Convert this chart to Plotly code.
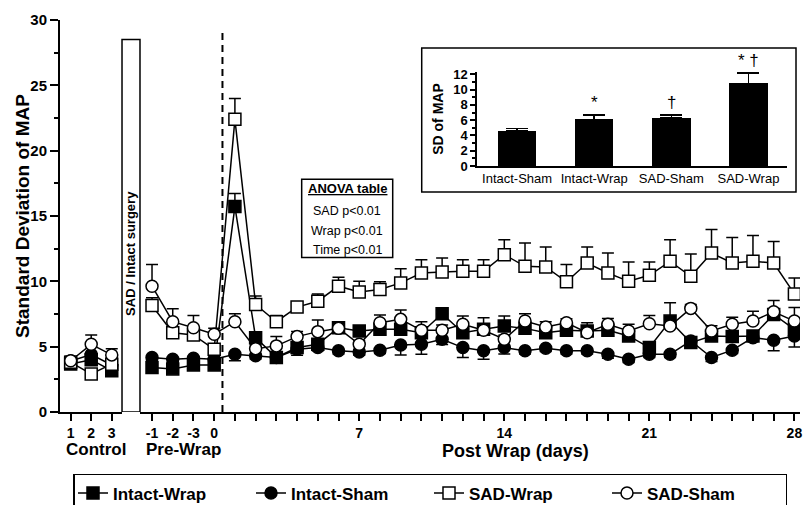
import plotly.graph_objects as go

# ---------------- data ----------------
CONTROL_X = [1, 2, 3]
PRE_POS = [-3, -2, -1, 0]
PRE_LABELS = ["-1", "-2", "-3", "0"]
POST_DAYS = list(range(1, 29))
POST_LABELED = [7, 14, 21, 28]
WRAP_X = 0.4

# Control period
iw_ctrl = [3.67, 4.0, 3.16]
iw_ctrl_err = [0.3, 0.3, 0.3]
is_ctrl = [3.9, 4.4, 3.6]
is_ctrl_err = [0.3, 0.3, 0.3]
sw_ctrl = [3.8, 2.91, 3.66]
sw_ctrl_err = [0.3, 0.3, 0.3]
ss_ctrl = [3.92, 5.18, 4.37]
ss_ctrl_err = [0.35, 0.71, 0.48]

# Pre-wrap (4) + post-wrap days 1..28
iw_main = [3.41, 3.3, 3.6, 3.6,
           15.72, 5.69, 4.17, 4.93, 5.19, 6.45, 6.2, 6.33, 6.33, 6.07, 7.52, 6.07, 6.33, 6.58,
           6.4, 6.07, 6.25, 6.2, 6.25, 5.82, 4.93, 6.96, 5.31, 5.82, 5.77, 5.82, 7.47, 6.33]
iw_err = [0.3, 0.3, 0.3, 0.3,
          1.0, 0.4, 0.3, 0.3, 0.3, 0.4, 0.4, 0.3, 0.3, 0.3, 0.3, 0.3, 0.89, 0.77,
          0.3, 0.3, 0.3, 0.3, 0.3, 0.3, 0.4, 1.4, 0.3, 0.3, 0.3, 0.3, 0.4, 0.5]

is_main = [4.17, 4.04, 4.12, 4.04,
           4.42, 4.3, 4.17, 4.8, 4.93, 4.68, 4.6, 4.73, 5.13, 5.18, 5.57, 4.93, 4.68, 4.93,
           4.68, 4.88, 4.68, 4.68, 4.42, 4.04, 4.42, 4.42, 5.44, 4.17, 4.73, 5.69, 5.49, 5.82]
is_err = [0.25, 0.25, 0.25, 0.25,
          0.5, 0.25, 0.25, 0.46, 0.25, 0.25, 0.25, 0.25, 0.77, 0.76, 0.4, 0.76, 0.64, 0.5,
          0.25, 0.25, 0.25, 0.25, 0.3, 0.25, 0.25, 0.25, 0.25, 0.3, 0.25, 0.25, 0.8, 0.85]

sw_main = [8.15, 6.07, 5.9, 4.8,
           22.4, 8.23, 6.91, 8.03, 8.48, 9.63, 9.19, 9.37, 9.88, 10.64, 10.71, 10.77, 10.77, 12.04,
           11.15, 11.1, 9.96, 11.4, 10.64, 10.0, 10.46, 11.53, 10.39, 12.16, 11.4, 11.53, 11.4, 9.04]
sw_err = [0.6, 0.3, 0.3, 0.3,
          1.6, 0.64, 0.48, 0.4, 0.56, 0.68, 0.81, 0.59, 1.09, 1.02, 1.08, 0.89, 0.89, 1.14,
          1.78, 1.52, 1.32, 1.22, 1.52, 1.48, 1.02, 1.65, 1.7, 1.81, 1.96, 1.98, 1.65, 1.22]

ss_main = [9.63, 6.91, 6.45, 5.95,
           6.91, 4.85, 5.06, 5.77, 6.15, 6.4, 5.18, 6.83, 7.09, 6.25, 6.25, 6.71, 6.25, 5.57,
           6.96, 6.5, 6.83, 6.07, 6.71, 6.2, 6.76, 6.58, 7.93, 6.2, 6.71, 6.96, 7.67, 6.96]
ss_err = [1.65, 0.99, 0.94, 0.45,
          0.61, 0.3, 0.71, 0.4, 0.89, 0.4, 0.3, 0.59, 0.71, 0.66, 0.4, 0.64, 0.3, 0.3,
          0.56, 0.41, 0.3, 0.76, 0.45, 0.51, 0.63, 0.4, 0.3, 0.4, 0.55, 0.76, 0.86, 1.04]

# Inset bar chart
inset_groups = ["Intact-Sham", "Intact-Wrap", "SAD-Sham", "SAD-Wrap"]
inset_values = [4.6, 6.1, 6.25, 10.8]
inset_err = [0.3, 0.6, 0.45, 1.4]
inset_marks = ["", "*", "†", "* †"]

anova_lines = ["SAD p<0.01", "Wrap p<0.01", "Time p<0.01"]

# ---------------- styling ----------------
FONT = "Liberation Sans, Arial, Helvetica, sans-serif"
BOLD = "Liberation Sans, Arial, sans-serif"
main_x = PRE_POS + POST_DAYS

CTRL_DOM = [0.0, 0.0838]
MAIN_DOM = [0.1081, 1.0]
INSET_XDOM = [0.5635, 0.9824]
INSET_YRANGE = [0, 12.3]
INSET_YDOM = [0.6276, 0.8673]

series = [
    # name, ctrl, ctrl_err, main, main_err, symbol, fill, err_down, rank
    ("Intact-Sham", is_ctrl, is_ctrl_err, is_main, is_err, "circle", "black", True, 2),
    ("Intact-Wrap", iw_ctrl, iw_ctrl_err, iw_main, iw_err, "square", "black", False, 1),
    ("SAD-Wrap", sw_ctrl, sw_ctrl_err, sw_main, sw_err, "square", "white", False, 3),
    ("SAD-Sham", ss_ctrl, ss_ctrl_err, ss_main, ss_err, "circle", "white", False, 4),
]

fig = go.Figure()

for name, cy, ce, my, me, sym, fill, down, rank in series:
    for xs, ys, es, xa, show in [(CONTROL_X, cy, ce, "x", False), (main_x, my, me, "x2", True)]:
        zeros = [0] * len(es)
        err = dict(type="data", symmetric=False,
                   array=zeros if down else es,
                   arrayminus=es if down else zeros,
                   color="black", thickness=1.5, width=6)
        fig.add_trace(go.Scatter(
            x=xs, y=ys, xaxis=xa, yaxis="y", mode="lines+markers", name=name,
            legendgroup=name, showlegend=show, legendrank=rank,
            line=dict(color="black", width=1.5),
            marker=dict(symbol=sym, size=12, color=fill, line=dict(color="black", width=1.5)),
            error_y=err,
        ))

fig.add_trace(go.Bar(
    x=inset_groups, y=inset_values, xaxis="x3", yaxis="y3", width=0.5,
    marker=dict(color="black", line=dict(width=0)), showlegend=False,
    error_y=dict(type="data", symmetric=False, array=inset_err,
                 arrayminus=[0] * len(inset_err), color="black", thickness=1.5, width=11),
))

axis_common = dict(showgrid=False, zeroline=False, linecolor="black", linewidth=2,
                   ticks="outside", tickcolor="black", tickwidth=2, showline=True)

fig.update_layout(
    width=804, height=505,
    margin=dict(l=60, r=4, t=20, b=93, autoexpand=False),
    paper_bgcolor="white", plot_bgcolor="white",
    font=dict(family=FONT, color="black"),
    bargap=0,
    xaxis=dict(domain=CTRL_DOM, range=[0.48, 3.5], anchor="y",
               tickvals=CONTROL_X, ticktext=[str(v) for v in CONTROL_X],
               ticklen=7, tickfont=dict(family=BOLD, size=14, weight="bold"), **axis_common),
    xaxis2=dict(domain=MAIN_DOM, range=[-3.58, 28.27], anchor="y",
                tickvals=main_x, ticklabeloverflow="allow",
                ticktext=PRE_LABELS + [str(d) if d in POST_LABELED else "" for d in POST_DAYS],
                ticklen=7, tickfont=dict(family=BOLD, size=14, weight="bold"), **axis_common),
    yaxis=dict(range=[0, 30], tickvals=[0, 5, 10, 15, 20, 25, 30], ticklen=8,
               minor=dict(dtick=2.5, ticklen=4, tickwidth=1.5, ticks="outside", tickcolor="black"),
               tickfont=dict(family=BOLD, size=15, weight="bold"),
               **axis_common),
    xaxis3=dict(domain=INSET_XDOM, anchor="y3", range=[-0.52, 3.5],
                showline=True, linecolor="black", linewidth=1.5, ticks="", showgrid=False,
                tickfont=dict(family=FONT, size=13)),
    yaxis3=dict(domain=INSET_YDOM, anchor="x3", range=INSET_YRANGE,
                tickvals=[0, 2, 4, 6, 8, 10, 12],
                showline=True, linecolor="black", linewidth=1.5, ticks="outside", ticklen=5,
                tickwidth=1.5, tickcolor="black", showgrid=False, zeroline=False,
                minor=dict(dtick=1, ticklen=3, ticks="outside", tickcolor="black"),
                tickfont=dict(family=BOLD, size=13, weight="bold"),
                title=dict(text="SD of MAP", standoff=6, font=dict(family=BOLD, size=14, weight="bold"))),
    legend=dict(orientation="h", x=0.5, xanchor="center", y=-0.158, yanchor="top",
                bordercolor="black", borderwidth=1.5, entrywidth=133,
                font=dict(family=BOLD, size=17, weight="bold"), bgcolor="white"),
)

shapes = [
    dict(type="line", xref="x2", yref="y", x0=WRAP_X, x1=WRAP_X, y0=0, y1=29.3,
         line=dict(color="black", width=2, dash="7px,5px"), layer="below"),
    dict(type="rect", xref="paper", yref="y", x0=CTRL_DOM[1], x1=MAIN_DOM[0], y0=0, y1=28.5,
         line=dict(color="black", width=1.5), fillcolor="white", layer="below"),
    dict(type="rect", xref="paper", yref="paper", x0=0.3266, x1=0.4496, y0=0.394, y1=0.594,
         line=dict(color="black", width=1.5), fillcolor="white"),
    dict(type="rect", xref="paper", yref="paper", x0=0.4888, x1=0.9946, y0=0.561, y1=0.9286,
         line=dict(color="black", width=1.5)),
]
fig.update_layout(shapes=shapes)

C = dict(xanchor="center", yanchor="middle", showarrow=False)
ann = [
    dict(text="Standard Deviation of MAP", xref="paper", yref="paper", x=-0.0514, y=0.5,
         textangle=-90, font=dict(family=BOLD, size=19, weight="bold"), **C),
    dict(text="SAD / Intact surgery", xref="paper", yref="y",
         x=(CTRL_DOM[1] + MAIN_DOM[0]) / 2, y=12.1, textangle=-90,
         font=dict(family=BOLD, size=13, weight="bold"), **C),
    dict(text="Control", xref="paper", yref="paper", x=0.0484, y=-0.0963,
         font=dict(family=BOLD, size=17, weight="bold"), **C),
    dict(text="Pre-Wrap", xref="paper", yref="paper", x=0.1669, y=-0.0963,
         font=dict(family=BOLD, size=17, weight="bold"), **C),
    dict(text="Post Wrap (days)", xref="paper", yref="paper", x=0.6149, y=-0.0995,
         font=dict(family=BOLD, size=18, weight="bold"), **C),
    dict(text="<u>ANOVA table</u>", xref="paper", yref="paper", x=0.3882, y=0.5707,
         font=dict(family=BOLD, size=13, weight="bold"), **C),
]
for txt, yy in zip(anova_lines, [0.5128, 0.4625, 0.4133]):
    ann.append(dict(text=txt, xref="paper", yref="paper", x=0.3882, y=yy,
                    font=dict(family=FONT, size=12.5), **C))

def inset_paper_y(v):
    return INSET_YDOM[0] + (v - INSET_YRANGE[0]) / (INSET_YRANGE[1] - INSET_YRANGE[0]) * (INSET_YDOM[1] - INSET_YDOM[0])

for g, v, e, m in zip(inset_groups, inset_values, inset_err, inset_marks):
    if m:
        ann.append(dict(text=m, xref="x3", yref="paper", x=g, y=inset_paper_y(v + e),
                        xanchor="center", yanchor="bottom", yshift=1, showarrow=False,
                        font=dict(family=FONT, size=17)))
fig.update_layout(annotations=ann)

# remove the default 8px page margin so the 804x505 figure fills the window exactly
fig.write_html("out.html", config={"displayModeBar": False},
               post_script="document.body.style.margin='0';document.body.style.overflow='hidden';")
